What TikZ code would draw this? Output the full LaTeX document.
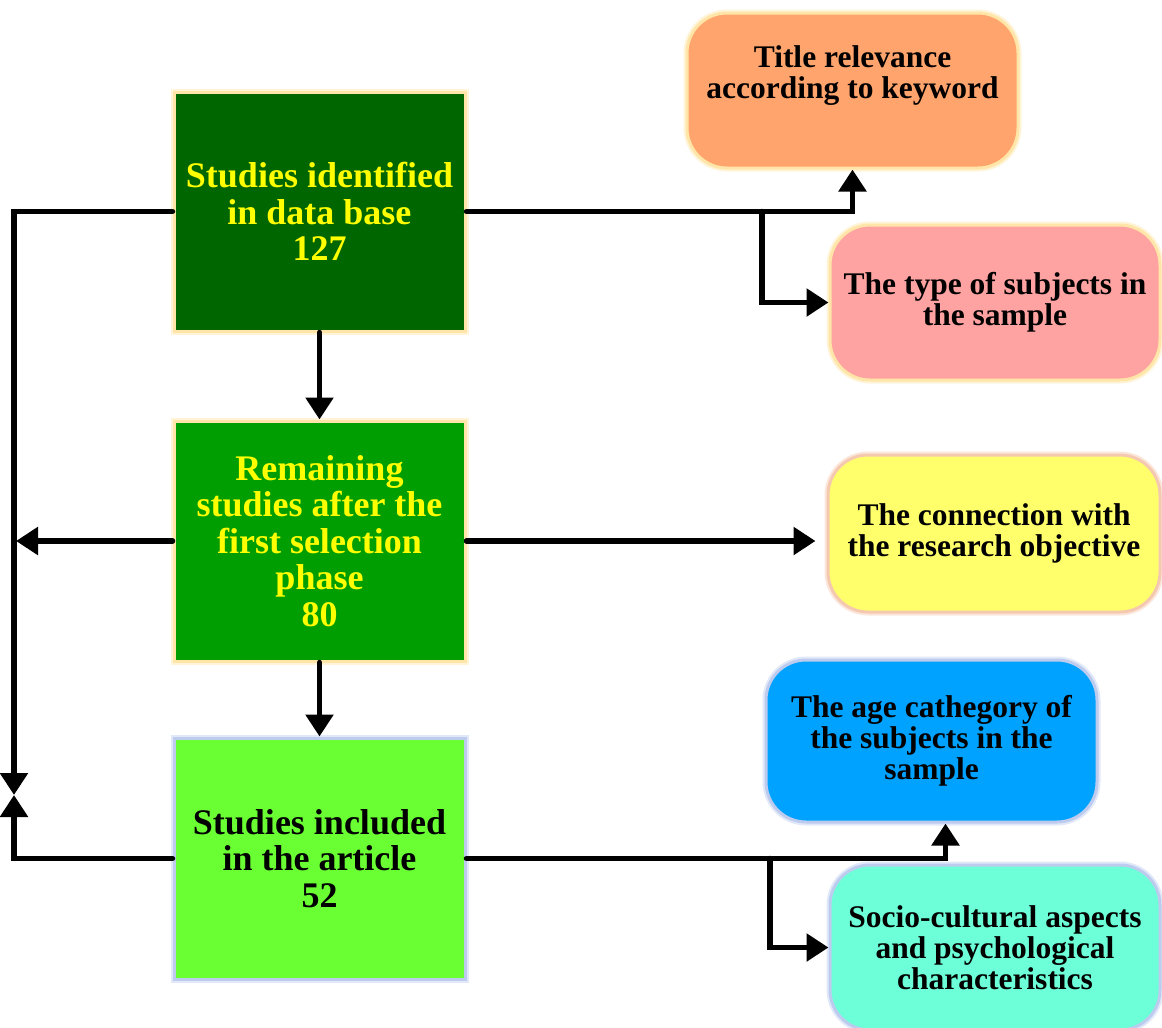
\documentclass[tikz,border=0pt]{standalone}
\usepackage{fontspec}
\setmainfont{Liberation Serif}
\usetikzlibrary{arrows.meta}
\definecolor{gDark}{HTML}{006600}
\definecolor{gMid}{HTML}{009E00}
\definecolor{gLight}{HTML}{6AFF33}
\definecolor{cOrange}{HTML}{FFA46C}
\definecolor{cPink}{HTML}{FFA2A2}
\definecolor{cYellow}{HTML}{FFFF6C}
\definecolor{cBlue}{HTML}{00A2FF}
\definecolor{cTeal}{HTML}{6CFFD8}
\definecolor{glowY}{HTML}{FFE6A8}
\definecolor{glowB}{HTML}{BCCBEE}
\definecolor{glowP}{HTML}{F5C8B0}
\definecolor{txtY}{HTML}{FFFF00}
\tikzset{
  glow/.style={preaction={draw=#1, line width=7pt, opacity=0.45}, draw=#1, line width=3pt},
  mainbox/.style={rectangle, inner sep=0pt, align=center,
    font=\bfseries\fontsize{36}{36.5}\selectfont},
  sidebox/.style={rectangle, rounded corners=40pt, inner sep=0pt, align=center,
    font=\bfseries\fontsize{31.5}{31}\selectfont},
  sidetext/.style={inner sep=0pt, align=center, font=\bfseries\fontsize{31.5}{31}\selectfont},
  arr/.style={line width=5.5pt, line cap=round, -{Triangle[length=22pt,width=27pt]}},
}
\begin{document}
\begin{tikzpicture}[x=1pt,y=-1pt]
\useasboundingbox (0,0) rectangle (1162,1028);
% main boxes
\node[mainbox, glow=glowY, fill=gDark, text=txtY, minimum width=291pt, minimum height=239pt]
  (b1) at (319.5,211.5) {Studies identified\\in data base\\127};
\node[mainbox, glow=glowY, fill=gMid, text=txtY, minimum width=291pt, minimum height=240pt]
  (b2) at (319.5,541) {Remaining\\studies after the\\first selection\\phase\\80};
\node[mainbox, glow=glowB, fill=gLight, text=black, minimum width=291pt, minimum height=241pt]
  (b3) at (319.5,858.5) {Studies included\\in the article\\52};
% side boxes
\node[sidebox, glow=glowY, fill=cOrange, minimum width=331pt, minimum height=155pt]
  (orange) at (852.5,90.5) {};
\node[sidetext] (orangetxt) at (852.5,76) {Title relevance\\according to keyword};
\node[sidebox, glow=glowY, fill=cPink, minimum width=330pt, minimum height=155pt]
  (pink) at (995,302.5) {The type of subjects in\\the sample};
\node[sidebox, glow=glowP, fill=cYellow, minimum width=332pt, minimum height=157pt]
  (yellow) at (994,533.5) {The connection with\\the research objective};
\node[sidebox, glow=glowB, fill=cBlue, minimum width=331pt, minimum height=162pt]
  (blue) at (931.5,741) {The age cathegory of\\the subjects in the\\sample};
\node[sidebox, glow=glowB, fill=cTeal, minimum width=330pt, minimum height=165pt]
  (teal) at (995,947.5) {Socio-cultural aspects\\and psychological\\characteristics};
% junction coordinates
\coordinate (tj) at (14,795);
\coordinate (br1) at (762,211.5);
\coordinate (br2) at (770,858.5);
% connectors
\draw[arr] (b1.south) -- (b2.north);
\draw[arr] (b2.south) -- (b3.north);
\draw[arr] (b1.west) -| (tj);
\draw[arr] (b3.west) -| (tj);
\draw[arr, shorten >=2pt] (b2.west) -- (b2.west -| tj);
\draw[arr] (b1.east) -| (orange.south);
\draw[arr] (br1) |- (pink.west);
\draw[arr, shorten >=11pt] (b2.east) -- (b2.east -| yellow.west);
\draw[arr] (b3.east) -| ([xshift=14pt]blue.south);
\draw[arr] (br2) |- (teal.west);
\end{tikzpicture}
\end{document}
